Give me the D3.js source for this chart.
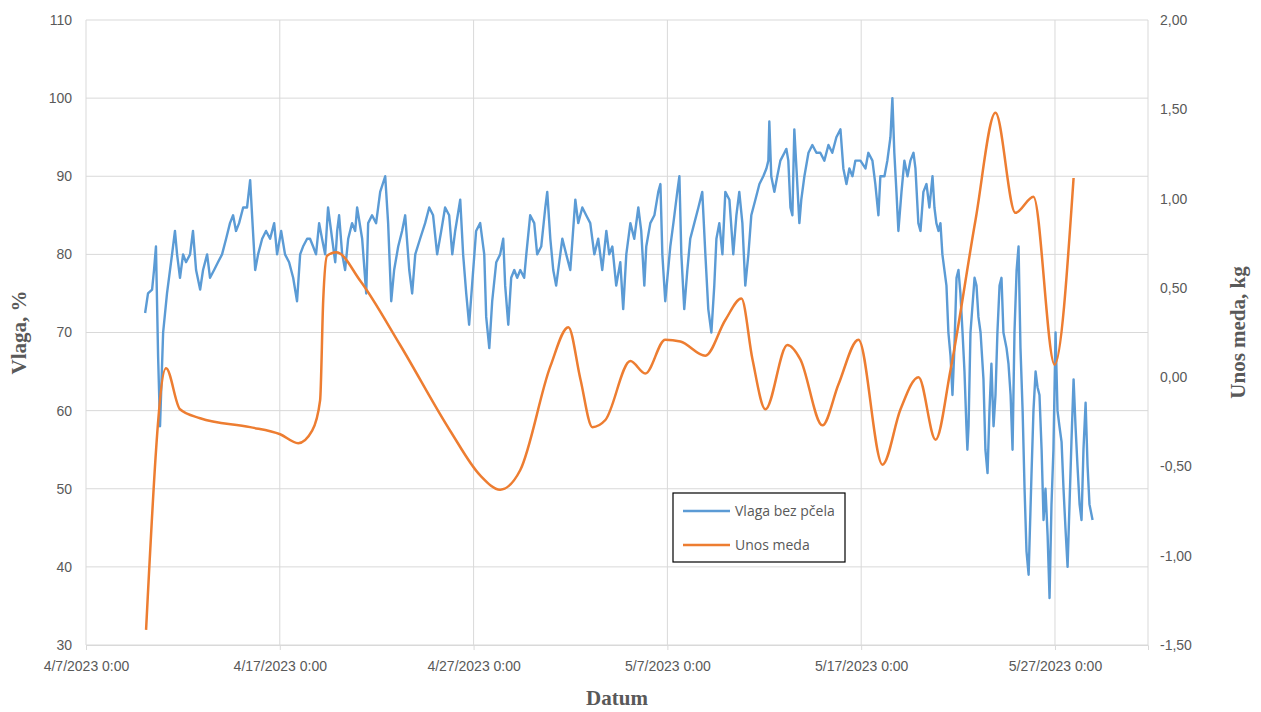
<!DOCTYPE html>
<html><head><meta charset="utf-8">
<script src="https://cdn.jsdelivr.net/npm/d3@7"></script>
<style>body{margin:0;background:#fff}</style>
</head><body><svg id="chart"></svg>
<script>
// days since 4/7/2023 0:00
const vlagaDays = [3.05,3.20,3.41,3.51,3.61,3.72,3.82,3.98,4.18,4.44,4.59,4.70,4.85,5.01,5.16,5.37,5.52,5.68,5.89,6.04,6.25,6.40,6.61,6.81,7.02,7.23,7.43,7.59,7.74,7.90,8.11,8.31,8.47,8.57,8.73,8.88,9.09,9.29,9.50,9.71,9.86,10.07,10.27,10.48,10.69,10.89,11.05,11.20,11.41,11.56,11.72,11.87,12.03,12.18,12.34,12.49,12.70,12.86,12.96,13.06,13.22,13.37,13.53,13.73,13.89,13.99,14.25,14.46,14.56,14.76,14.97,15.18,15.44,15.59,15.75,15.90,16.11,16.31,16.47,16.68,16.83,16.99,17.24,17.50,17.71,17.91,18.12,18.33,18.53,18.74,18.90,19.05,19.31,19.46,19.62,19.77,19.98,20.13,20.34,20.55,20.65,20.81,20.96,21.17,21.37,21.53,21.63,21.79,21.94,22.10,22.25,22.41,22.61,22.72,22.92,23.13,23.28,23.49,23.70,23.80,23.96,24.11,24.26,24.42,24.58,24.78,24.99,25.25,25.40,25.61,25.81,26.02,26.23,26.43,26.64,26.85,27.00,27.16,27.36,27.57,27.72,27.88,28.09,28.29,28.50,28.65,28.81,28.91,29.12,29.33,29.53,29.64,29.74,29.89,30.00,30.15,30.31,30.51,30.62,30.72,30.87,31.03,31.18,31.39,31.60,31.80,31.96,32.11,32.27,32.42,32.53,32.68,32.84,32.99,33.20,33.40,33.56,33.71,33.87,34.02,34.18,34.33,34.54,34.75,34.95,35.11,35.21,35.26,35.36,35.52,35.67,35.83,36.04,36.14,36.24,36.35,36.45,36.55,36.66,36.81,36.91,37.07,37.28,37.48,37.69,37.89,38.10,38.31,38.51,38.72,38.93,39.08,39.24,39.39,39.55,39.70,39.96,40.22,40.37,40.58,40.73,40.89,40.99,41.20,41.35,41.51,41.61,41.71,41.82,41.92,42.08,42.23,42.39,42.54,42.70,42.80,42.95,43.06,43.21,43.37,43.52,43.68,43.78,43.88,43.99,44.09,44.19,44.40,44.50,44.61,44.71,44.81,44.92,45.02,45.12,45.23,45.33,45.43,45.48,45.54,45.64,45.85,45.95,46.05,46.16,46.31,46.41,46.52,46.62,46.72,46.83,46.93,47.03,47.14,47.24,47.34,47.50,47.60,47.71,47.81,47.91,48.02,48.12,48.22,48.33,48.43,48.53,48.64,48.79,48.89,49.00,49.10,49.20,49.31,49.41,49.51,49.62,49.72,49.82,49.92,50.03,50.13,50.23,50.34,50.44,50.54,50.65,50.75,50.85,50.96,51.06,51.16,51.27,51.37,51.47,51.58,51.68,51.78,51.94];
const vlagaValues = [72.5,75,75.5,78,81,67,58,70,75,80,83,80,77,80,79,80,83,78,75.5,78,80,77,78,79,80,82,84,85,83,84,86,86,89.5,85,78,80,82,83,82,84,80,83,80,79,77,74,80,81,82,82,81,80,84,82,80,86,82,79,83,85,80,78,82,84,83,86,82,75,84,85,84,88,90,84,74,78,81,83,85,78,75,80,82,84,86,85,80,83,86,85,80,83,87,80,75,71,78,83,84,80,72,68,74,79,80,82,76,71,77,78,77,78,77,80,85,84,80,81,86,88,82,78,76,79,82,80,78,87,84,86,85,84,80,82,78,83,80,81,76,79,73,80,84,82,86,83,76,81,84,85,88,89,80,74,77,81,84,88,90,80,73,78,82,84,86,88,80,73,70,76,82,84,80,88,87,80,85,88,84,76,80,85,87,89,90,91,92,97,90,88,90,92,93,93.5,92,86,85,96,91,84,87,90,93,94,93,93,92,94,93,95,96,91,89,91,90,92,92,91,93,92,89,85,90,90,92,95,100,93,88,83,88,92,90,92,93,91,84,83,88,89,86,90,86,84,83,84,80,76,70,67,62,68,77,78,75,70,65,58,55,58,70,77,76,72,70,64,55,52,60,66,58,62,70,76,77,70,68,66,62,55,70,78,81,68,60,50,42,39,52,60,65,63,62,55,46,50,44,36,48,55,70,60,58,56,50,45,40,48,56,64,58,53,48,46,55,61,53,48,46];

const unosDays = [3.10,4.13,4.85,5.89,8.47,10.02,10.95,11.67,12.08,12.24,12.44,12.91,14.15,16.21,18.79,20.34,21.37,22.41,23.96,24.89,25.51,26.13,26.80,28.09,28.86,29.89,30.67,31.96,32.99,33.82,34.39,35.06,36.19,36.86,38.00,38.83,39.86,41.10,42.03,42.96,43.84,44.61,45.90,46.93,47.96,48.89,49.98,50.96];
const unosValues = [-1.415,0.05,-0.18,-0.23,-0.28,-0.32,-0.37,-0.30,-0.13,0.43,0.68,0.70,0.54,0.18,-0.30,-0.55,-0.63,-0.52,0.06,0.28,-0.01,-0.28,-0.24,0.09,0.02,0.21,0.20,0.12,0.32,0.44,0.10,-0.18,0.18,0.10,-0.27,-0.04,0.21,-0.49,-0.18,0.00,-0.35,0.04,0.88,1.48,0.92,1.01,0.07,1.115];

const xTickDays = [0,10,20,30,40,50];
const leftTicks = [30,40,50,60,70,80,90,100,110];
const rightTicks = [-1.5,-1,-0.5,0,0.5,1,1.5,2];
const seriesNames = ["Vlaga bez pčela","Unos meda"];
const colors = ["#5b9bd5","#ed7d31"];

const W = 1261, H = 712;
const m = {l:86, r:113, t:20, b:67};
const start = new Date(2023,3,7);
const toDate = d => new Date(start.getTime() + d*864e5);

const svg = d3.select("#chart").attr("width",W).attr("height",H)
  .style("font-family","'Open Sans', sans-serif");

const x = d3.scaleTime().domain([start, toDate(54.8)]).range([m.l, W-m.r]);
const yL = d3.scaleLinear().domain([30,110]).range([H-m.b, m.t]);
const yR = d3.scaleLinear().domain([-1.5,2]).range([H-m.b, m.t]);

// gridlines
svg.append("g").selectAll("line").data(leftTicks).join("line")
  .attr("x1",m.l).attr("x2",W-m.r).attr("y1",d=>yL(d)).attr("y2",d=>yL(d))
  .attr("stroke","#d9d9d9");
svg.append("g").selectAll("line").data(xTickDays).join("line")
  .attr("x1",d=>x(toDate(d))).attr("x2",d=>x(toDate(d))).attr("y1",m.t).attr("y2",H-m.b)
  .attr("stroke","#d9d9d9");
svg.append("line").attr("x1",W-m.r).attr("x2",W-m.r).attr("y1",m.t).attr("y2",H-m.b).attr("stroke","#d9d9d9");

const fmtDate = d => `${d.getMonth()+1}/${d.getDate()}/${d.getFullYear()} 0:00`;
const xAxis = svg.append("g").attr("transform",`translate(0,${H-m.b})`)
  .call(d3.axisBottom(x).tickValues(xTickDays.map(toDate)).tickFormat(fmtDate).tickSize(5));
const yAxisL = svg.append("g").attr("transform",`translate(${m.l},0)`)
  .call(d3.axisLeft(yL).tickValues(leftTicks).tickSize(0).tickPadding(14));
const fmtR = d => d3.format(".2f")(d).replace(".",",").replace("\u2212","-");
const yAxisR = svg.append("g").attr("transform",`translate(${W-m.r},0)`)
  .call(d3.axisRight(yR).tickValues(rightTicks).tickFormat(fmtR).tickSize(0).tickPadding(12));
[xAxis,yAxisL,yAxisR].forEach(a=>{
  a.selectAll("text").attr("fill","#595959").style("font-size","14px");
  a.select(".domain").attr("stroke","#d9d9d9");
  a.selectAll(".tick line").attr("stroke","#d9d9d9");
});
yAxisL.select(".domain").remove();
yAxisR.select(".domain").remove();
xAxis.selectAll("text").attr("dy","1.3em");

// lines
const blue = vlagaDays.map((d,i)=>[toDate(d), vlagaValues[i]]);
svg.append("path").datum(blue)
  .attr("d", d3.line().x(d=>x(d[0])).y(d=>yL(d[1])))
  .attr("fill","none").attr("stroke",colors[0]).attr("stroke-width",2.4).attr("stroke-linejoin","round");
const orange = unosDays.map((d,i)=>[toDate(d), unosValues[i]]);
svg.append("path").datum(orange)
  .attr("d", d3.line().curve(d3.curveMonotoneX).x(d=>x(d[0])).y(d=>yR(d[1])))
  .attr("fill","none").attr("stroke",colors[1]).attr("stroke-width",2.5);

// axis titles
const titleStyle = s => s.attr("fill","#595959").style("font-family","'Liberation Serif', serif")
  .style("font-size","21px").style("font-weight","bold");
svg.append("text").attr("x",(m.l+W-m.r)/2).attr("y",705).attr("text-anchor","middle").text("Datum").call(titleStyle);
svg.append("text").attr("transform",`translate(26,${(m.t+H-m.b)/2}) rotate(-90)`).attr("text-anchor","middle").text("Vlaga, %").call(titleStyle);
svg.append("text").attr("transform",`translate(1245,${(m.t+H-m.b)/2}) rotate(-90)`).attr("text-anchor","middle").text("Unos meda, kg").call(titleStyle);

// legend
const lg = svg.append("g").attr("transform","translate(673,493)");
lg.append("rect").attr("width",172).attr("height",69).attr("fill","#fff").attr("stroke","#000").attr("stroke-width",1.2);
seriesNames.forEach((n,i)=>{
  const yy = 18 + i*34;
  lg.append("line").attr("x1",10).attr("x2",57).attr("y1",yy).attr("y2",yy).attr("stroke",colors[i]).attr("stroke-width",2.5);
  lg.append("text").attr("x",62).attr("y",yy+5).attr("fill","#595959").style("font-size","14px").text(n);
});
</script></body></html>
